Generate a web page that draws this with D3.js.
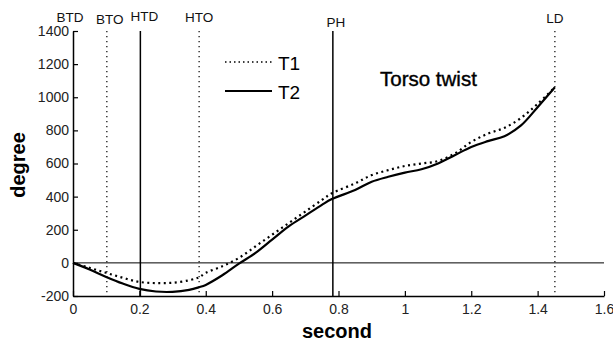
<!DOCTYPE html>
<html><head><meta charset="utf-8">
<script src="https://cdn.jsdelivr.net/npm/d3@7"></script>
<style>body{margin:0;background:#fff}svg{display:block}text{font-family:"Liberation Sans",Arial,sans-serif}</style>
</head><body><svg id="c" width="613" height="345"></svg>
<script>
const time = [0,0.05,0.1,0.15,0.2,0.25,0.3,0.35,0.38,0.4,0.45,0.5,0.55,0.6,0.65,0.7,0.75,0.78,0.85,0.9,0.95,1.0,1.05,1.1,1.15,1.2,1.25,1.3,1.35,1.4,1.452];
const T1 = [0,-30,-60,-90,-115,-122,-120,-105,-87,-60,-20,30,100,170,240,310,380,420,480,530,560,585,600,615,660,730,780,815,875,960,1060];
const T2 = [0,-40,-85,-125,-157,-173,-175,-163,-147,-133,-75,-5,60,140,220,285,350,385,440,490,520,545,565,600,650,700,735,765,830,940,1060];
const events = ["BTD","BTO","HTD","HTO","PH","LD"];
const eventTimes = [0,0.102,0.203,0.38,0.783,1.452];
const eventSolid = [false,false,true,false,true,false];
const eventLabelDy = [22,24,21,22,27,23];
const xTicks = [0,0.2,0.4,0.6,0.8,1,1.2,1.4,1.6];
const yTicks = [-200,0,200,400,600,800,1000,1200,1400];

const svg = d3.select("#c");
const x = d3.scaleLinear().domain([0,1.6]).range([73,604]);
const y = d3.scaleLinear().domain([-200,1400]).range([296,31]);

svg.append("line").attr("x1",x(0)).attr("x2",x(1.6)).attr("y1",y(0)).attr("y2",y(0))
  .attr("stroke","#000").attr("stroke-width",1);

const labelOffsets = [-3,3,4,0,3,0];
events.forEach((e,i)=>{
  if(i>0){
    svg.append("line").attr("x1",x(eventTimes[i])).attr("x2",x(eventTimes[i]))
      .attr("y1",y(1400)).attr("y2",y(-200))
      .attr("stroke","#000").attr("stroke-width",eventSolid[i]?1.5:1.2)
      .attr("stroke-dasharray",eventSolid[i]?null:"1.2,3.8");
  }
  svg.append("text").attr("x",x(eventTimes[i])+labelOffsets[i]).attr("y",eventLabelDy[i])
    .attr("text-anchor","middle").attr("font-size",13.5).attr("fill","#111").text(e);
});

const gx = svg.append("g").attr("transform",`translate(0,${y(-200)})`)
  .call(d3.axisBottom(x).tickValues(xTicks).tickFormat(d=>String(d)).tickSizeInner(-5).tickSizeOuter(0).tickPadding(8));
const gy = svg.append("g").attr("transform",`translate(${x(0)},0)`)
  .call(d3.axisLeft(y).tickValues(yTicks).tickFormat(d=>String(d)).tickSizeInner(-5).tickSizeOuter(0).tickPadding(6));
[gx,gy].forEach(g=>{
  g.select(".domain").attr("stroke","#000").attr("stroke-width",1.5);
  g.selectAll(".tick line").attr("stroke","#000").attr("stroke-width",1.2);
  g.selectAll(".tick text").attr("font-size",14).attr("fill","#222").attr("font-family","'Liberation Sans',Arial,sans-serif");
});
gy.selectAll(".tick text").attr("x",-4);

const line = d3.line().x((d,i)=>x(time[i])).y(d=>y(d)).curve(d3.curveCatmullRom);
svg.append("path").datum(T1).attr("d",line).attr("fill","none").attr("stroke","#000")
  .attr("stroke-width",2.2).attr("stroke-dasharray","2,3.5");
svg.append("path").datum(T2).attr("d",line).attr("fill","none").attr("stroke","#000")
  .attr("stroke-width",2.2);

svg.append("line").attr("x1",225).attr("x2",272).attr("y1",62).attr("y2",62)
  .attr("stroke","#000").attr("stroke-width",1.5).attr("stroke-dasharray","1.5,3");
svg.append("text").attr("x",278).attr("y",70).attr("font-size",19).text("T1");
svg.append("line").attr("x1",225).attr("x2",272).attr("y1",91).attr("y2",91)
  .attr("stroke","#000").attr("stroke-width",2);
svg.append("text").attr("x",278).attr("y",99).attr("font-size",19).text("T2");

svg.append("text").attr("x",380).attr("y",86).attr("font-size",20.5).attr("stroke","#000").attr("stroke-width",0.4).text("Torso twist");

svg.append("text").attr("x",337).attr("y",338).attr("text-anchor","middle")
  .attr("font-size",20).attr("font-weight","bold").text("second");
svg.append("text").attr("transform","translate(25,165) rotate(-90)").attr("text-anchor","middle")
  .attr("font-size",20).attr("font-weight","bold").text("degree");
</script></body></html>
